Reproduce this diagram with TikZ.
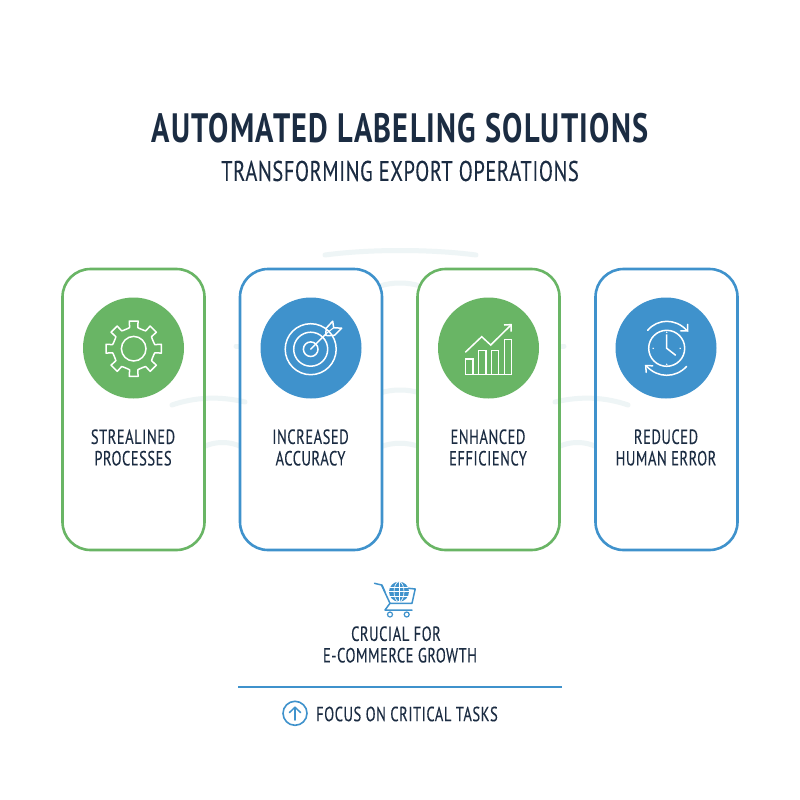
\documentclass[tikz,border=0pt]{standalone}
\usepackage{fontspec}
\newfontfamily\titlef[FakeStretch=0.74,LetterSpace=3]{PT Sans}
\newfontfamily\subf[FakeStretch=0.72,LetterSpace=2,FakeBold=0.1]{PT Sans}
\newfontfamily\labelf[FakeStretch=0.71,LetterSpace=2.5,FakeBold=0.15]{PT Sans}
\usetikzlibrary{arrows.meta}
\definecolor{navy}{HTML}{1B2C42}
\definecolor{cgreen}{HTML}{69B565}
\definecolor{cblue}{HTML}{3F92CC}
\definecolor{pale}{HTML}{EEF5F6}
\tikzset{
 cardfill/.style={fill=white,draw=none,rounded corners=28pt},
 card/.style={draw=#1,line width=2.6pt,rounded corners=28pt},
 disc/.style={circle,fill=#1,draw=none,minimum size=101pt,inner sep=0pt},
 cardlabel/.style={text=navy,align=center,font=\labelf\fontsize{20.5}{21}\selectfont,inner sep=0pt},
 glyph/.style={draw=white,line width=1.5pt,line join=miter,fill=none},
 bgarc/.style={draw=pale,line width=5pt,line cap=round},
 blueglyph/.style={draw=cblue,line width=1.5pt,fill=none,line cap=round,line join=round}
}
\begin{document}
\begin{tikzpicture}[x=1pt,y=-1pt]
\useasboundingbox (0,0) rectangle (800,800);
\fill[white] (0,0) rectangle (800,800);
% pale background arcs behind the cards
\draw[bgarc] (325,255) .. controls (370,249) and (430,249) .. (476,255);
\draw[bgarc] (380,286) .. controls (392,282) and (408,282) .. (420,286);
\draw[bgarc] (236,346) -- (244,346);
\draw[bgarc] (556,346) -- (564,346);
\draw[bgarc] (380,393) .. controls (392,389) and (408,389) .. (420,393);
\draw[bgarc] (203,447) .. controls (215,441) and (230,441) .. (242,447);
\draw[bgarc] (380,447) .. controls (392,442) and (408,442) .. (420,447);
\draw[bgarc] (558,447) .. controls (570,441) and (585,441) .. (597,447);
% title
\node[text=navy,inner sep=0pt,font=\titlef\bfseries\fontsize{41}{42}\selectfont] (title) at (400,128) {AUTOMATED LABELING SOLUTIONS};
\node[text=navy,inner sep=0pt,font=\subf\fontsize{28.5}{30}\selectfont] (subtitle) at (400,171) {TRANSFORMING EXPORT OPERATIONS};
% cards
\fill[cardfill] (62.5,269) rectangle (204.5,550);
\fill[cardfill] (240,269) rectangle (382,550);
\fill[cardfill] (417.5,269) rectangle (559.5,550);
\fill[cardfill] (595.5,269) rectangle (737.5,550);
% wide arcs show through the outer cards
\draw[bgarc] (172,405) .. controls (195,397) and (220,396) .. (245,402);
\draw[bgarc] (555,402) .. controls (580,396) and (605,397) .. (628,405);
\draw[card=cgreen] (62.5,269) rectangle (204.5,550);
\draw[card=cblue] (240,269) rectangle (382,550);
\draw[card=cgreen] (417.5,269) rectangle (559.5,550);
\draw[card=cblue] (595.5,269) rectangle (737.5,550);
\node[disc=cgreen] (d1) at (133.5,348) {};
\node[disc=cblue] (d2) at (311,348) {};
\node[disc=cgreen] (d3) at (488.5,348) {};
\node[disc=cblue] (d4) at (666,348) {};
\node[cardlabel] (l1) at (133,447.5) {STREALINED\\[0.5pt]PROCESSES};
\node[cardlabel] (l2) at (310.5,447.5) {INCREASED\\[0.5pt]ACCURACY};
\node[cardlabel] (l3) at (488,447.5) {ENHANCED\\[0.5pt]EFFICIENCY};
\node[cardlabel] (l4) at (666,447.5) {REDUCED\\[0.5pt]HUMAN ERROR};
% gear
\begin{scope}[shift={(133.7,348.7)}]
 \draw[glyph,line join=round] (-16.5:21)
  \foreach \a in {0,45,...,315}{
   -- ({\a-11}:21.5) -- ({\a-9}:28) -- ({\a+9}:28) -- ({\a+11}:21.5) -- ({\a+16.5}:21) -- ({\a+28.5}:21)
  } -- cycle;
 \draw[glyph] (0,0) circle (12.3);
\end{scope}
% target
\begin{scope}[shift={(310.7,349.2)}]
 \draw[glyph] (0,0) circle (25.5);
 \draw[glyph] (0,0) circle (17);
 \draw[glyph] (0,0) circle (7.3);
 \draw[glyph,line cap=round] (0,0) -- (16,-16);
 \draw[glyph,line join=round] (15,-14) -- (15.5,-21) -- (22,-28) -- (23,-21.5) -- (31,-21) -- (24,-14) -- (17,-13.5) -- cycle;
 \draw[glyph,line width=1pt] (16,-16) -- (23,-21.5);
\end{scope}
% chart
\draw[glyph] (465.3,374.3) -- (511.7,374.3);
\draw[glyph] (465.3,374.3) rectangle (473,359);
\draw[glyph] (478.5,374.3) rectangle (486,350.5);
\draw[glyph] (491.5,374.3) rectangle (498.5,350.5);
\draw[glyph] (504.3,374.3) rectangle (511.7,339.5);
\draw[glyph] (465.3,352.3) -- (481.7,336.7) -- (490.7,345) -- (511,325);
\draw[glyph] (504,325) -- (511.2,324.6) -- (511.2,331.5);
% clock
\begin{scope}[shift={(666.7,348.3)}]
 \draw[glyph] (0,0) circle (18);
 \draw[glyph] (0,-14) -- (0,0) -- (9,7);
 \fill[white] (0,-16) circle (0.8) (0,16) circle (0.8) (-13.5,0) circle (0.8) (13.5,0) circle (0.8);
 \draw[glyph,line cap=round] (-19,-18) .. controls (-9,-30) and (9,-30) .. (20,-18);
 \draw[glyph,line cap=round] (14,-17.5) -- (21,-17.3) -- (21,-24);
 \draw[glyph,line cap=round] (20,18) .. controls (9,30) and (-9,30) .. (-20,18);
 \draw[glyph,line cap=round] (-14,17.5) -- (-21,17.3) -- (-20.5,24);
\end{scope}
% cart
\draw[blueglyph] (374.5,583.3) -- (381.5,585) -- (390,603.3) -- (412,603.3) -- (415.2,589) -- (408.5,588.3);
\draw[blueglyph] (390,603.3) -- (385,610) -- (412,610);
\draw[blueglyph] (382,585) -- (385,592);
\draw[blueglyph,line width=1.2pt] (390,614.5) circle (2.5) (406.7,614.5) circle (2.5);
\begin{scope}[shift={(399,591.7)}]
 \fill[cblue] (0,0) circle (10);
 \draw[white,line width=0.7pt] (-10,0) -- (10,0) (0,-10) -- (0,10) (-9,-4.5) -- (9,-4.5) (-9,4.5) -- (9,4.5);
 \draw[white,line width=0.7pt] (0,0) ellipse (5 and 10);
\end{scope}
% lower texts
\node[cardlabel] (crucial) at (400,644.5) {CRUCIAL FOR\hspace*{8pt}\\[0.5pt]E-COMMERCE GROWTH};
\coordinate (divL) at (238,686.7);
\coordinate (divR) at (562,686.7);
\draw[cblue,line width=2pt] (divL) -- (divR);
\node[circle,draw=cblue,line width=1.6pt,minimum size=24pt,inner sep=0pt] (upc) at (295,713.3) {};
\draw[blueglyph] (295,720) -- (295,707.5);
\draw[blueglyph] (289.5,712.5) -- (295,707.2) -- (300.5,712.5);
\node[text=navy,anchor=west,inner sep=0pt,font=\labelf\fontsize{20.5}{21}\selectfont] (focus) at (316,714) {FOCUS ON CRITICAL TASKS};
\end{tikzpicture}
\end{document}
